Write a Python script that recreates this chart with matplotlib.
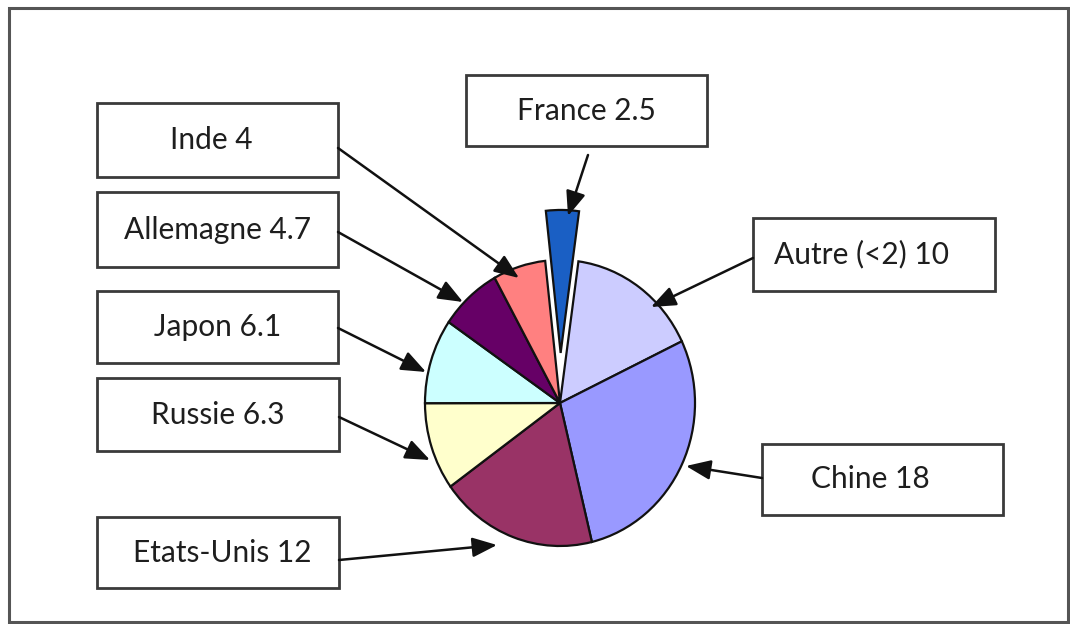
import matplotlib
matplotlib.use("Agg")
import matplotlib.pyplot as plt
from matplotlib.patches import Rectangle, FancyArrowPatch

plt.rcParams['font.family'] = ['Lato', 'DejaVu Sans']

# Data
countries = ["France", "Autre (<2)", "Chine", "Etats-Unis", "Russie", "Japon", "Allemagne", "Inde"]
values = [2.5, 10, 18, 12, 6.3, 6.1, 4.7, 4]
labels = ["France 2.5", "Autre (<2) 10", "Chine 18", "Etats-Unis 12", "Russie 6.3", "Japon 6.1", "Allemagne 4.7", "Inde 4"]
colors = ["#1A5FC4", "#CCCCFF", "#9999FF", "#993366", "#FFFFCC", "#CCFFFF", "#660066", "#FF8080"]
explode = [0.35, 0, 0, 0, 0, 0, 0, 0]

W, H = 1070, 624
fig = plt.figure(figsize=(W / 100, H / 100), dpi=100)
ax = fig.add_axes([0, 0, 1, 1])

def Y(y):
    return H - y

# pie axes (slightly elliptical pie like the reference)
pcx, pcy, rx, ry = 560, 403, 135, 143
k = 1.5
pax = fig.add_axes([(pcx - k * rx) / W, (H - pcy - k * ry) / H, 2 * k * rx / W, 2 * k * ry / H])
pax.pie(values, colors=colors, explode=explode, startangle=96.3, counterclock=False,
        radius=1, wedgeprops=dict(edgecolor="#111111", linewidth=1.6))
pax.set_aspect('auto')
pax.set_xlim(-k, k)
pax.set_ylim(-k, k)
pax.axis('off')
pax.set_zorder(1)
ax.set_zorder(2)
ax.patch.set_visible(False)

ax.set_xlim(0, W)
ax.set_ylim(0, H)
ax.axis('off')

# label boxes: (x0, y0, x1, y1) in pixel coords (y down)
boxes = {
    "France 2.5": (466, 75, 707, 146),
    "Autre (<2) 10": (753, 218, 995, 291),
    "Chine 18": (762, 444, 1003, 515),
    "Etats-Unis 12": (97, 517, 339, 588),
    "Russie 6.3": (97, 378, 339, 451),
    "Japon 6.1": (97, 291, 338, 363),
    "Allemagne 4.7": (97, 192, 338, 267),
    "Inde 4": (97, 103, 338, 177),
}
text_dx = {"Chine 18": -12, "Inde 4": -6, "Autre (<2) 10": -12, "Etats-Unis 12": 4}
arrows = {
    "France 2.5": ((588, 155), (568, 216)),
    "Autre (<2) 10": ((753, 258), (651, 307)),
    "Chine 18": ((762, 478), (686, 466)),
    "Etats-Unis 12": ((339, 560), (497, 545)),
    "Russie 6.3": ((339, 417), (430, 460)),
    "Japon 6.1": ((338, 328), (426, 372)),
    "Allemagne 4.7": ((338, 232), (463, 302)),
    "Inde 4": ((338, 148), (519, 278)),
}

for lab in labels:
    x0, y0, x1, y1 = boxes[lab]
    ax.add_patch(Rectangle((x0, Y(y1)), x1 - x0, y1 - y0, facecolor="white",
                           edgecolor="#3a3a3a", linewidth=2.0, zorder=3))
    ax.text((x0 + x1) / 2 + text_dx.get(lab, 0), Y((y0 + y1) / 2), lab, ha="center", va="center",
            fontsize=21.5, color="#1e1e1e", zorder=4)
    (sx, sy), (ex, ey) = arrows[lab]
    ax.add_patch(FancyArrowPatch((sx, Y(sy)), (ex, Y(ey)),
                                 arrowstyle="-|>,head_length=15,head_width=6",
                                 mutation_scale=1, color="#111111",
                                 linewidth=1.8, shrinkA=0, shrinkB=0, zorder=5))

# outer frame
ax.add_patch(Rectangle((9, Y(622)), 1059, 614, facecolor="none",
                       edgecolor="#555555", linewidth=2.2, zorder=6))

fig.savefig("out.png", dpi=100)
